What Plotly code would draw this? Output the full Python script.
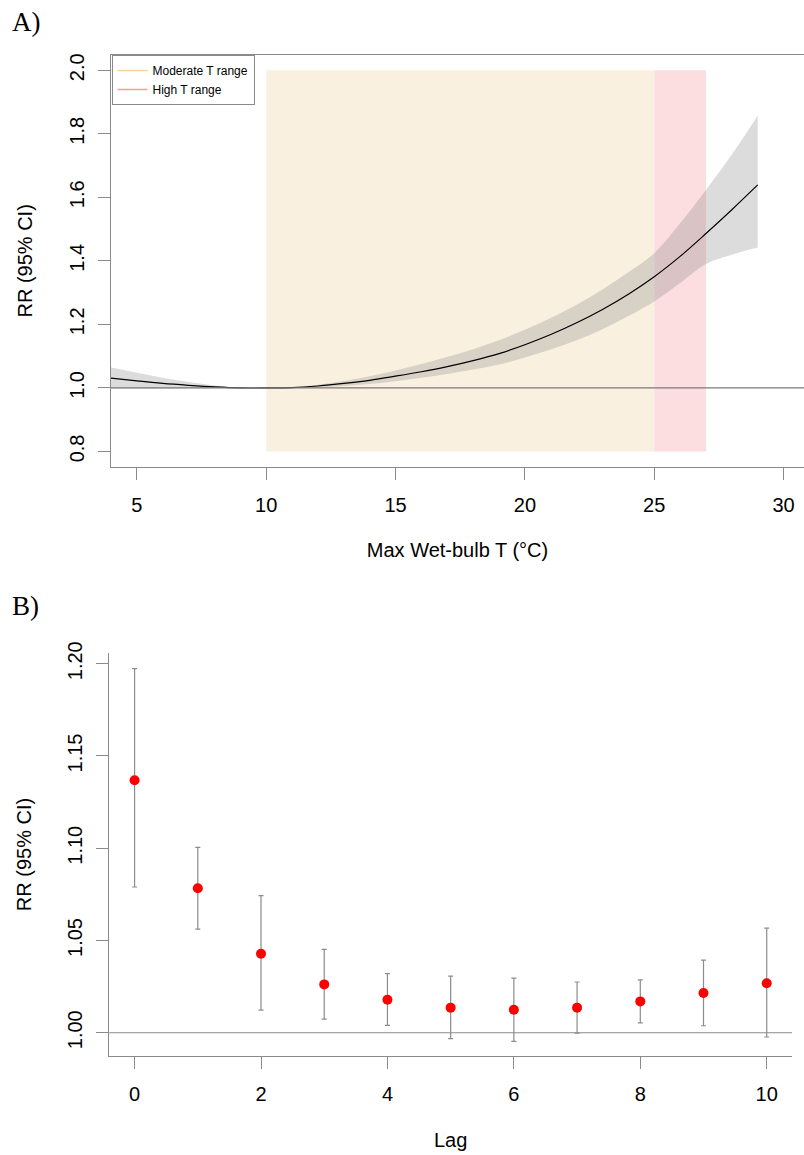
import plotly.graph_objects as go

# ---------------- Panel A data ----------------
temp_x = [4, 5, 6, 7, 8, 9, 10, 11, 12, 13, 14, 15, 16, 17, 18, 19, 20, 21, 22, 23, 24, 25, 26, 27, 28, 29]
rr = [1.031, 1.022, 1.014, 1.008, 1.003, 1.000, 1.000, 1.001, 1.006, 1.014, 1.024, 1.037, 1.051,
      1.067, 1.086, 1.108, 1.136, 1.168, 1.205, 1.247, 1.295, 1.350, 1.414, 1.486, 1.561, 1.639]
rr_lo = [0.997, 0.997, 0.997, 0.998, 0.999, 1.000, 1.000, 1.000, 1.002, 1.006, 1.012, 1.021, 1.032,
         1.044, 1.058, 1.074, 1.096, 1.121, 1.150, 1.185, 1.226, 1.272, 1.330, 1.390, 1.419, 1.442]
rr_hi = [1.064, 1.048, 1.032, 1.019, 1.008, 1.001, 1.000, 1.002, 1.010, 1.022, 1.037, 1.055, 1.075,
         1.097, 1.122, 1.150, 1.183, 1.220, 1.262, 1.310, 1.364, 1.424, 1.518, 1.623, 1.735, 1.857]
moderate_range = [10, 25]
high_range = [25, 27]
shade_y = [0.8, 2.0]
a_xticks = [5, 10, 15, 20, 25, 30]
a_yticks = [0.8, 1.0, 1.2, 1.4, 1.6, 1.8, 2.0]

# ---------------- Panel B data ----------------
lags = [0, 1, 2, 3, 4, 5, 6, 7, 8, 9, 10]
lag_rr = [1.1368, 1.0783, 1.0428, 1.0262, 1.0179, 1.0136, 1.0125, 1.0136, 1.0170, 1.0215, 1.0268]
lag_hi = [1.1973, 1.1005, 1.0743, 1.0452, 1.0320, 1.0307, 1.0296, 1.0275, 1.0287, 1.0394, 1.0567]
lag_lo = [1.0790, 1.0562, 1.0123, 1.0074, 1.0040, 0.9968, 0.9953, 0.9998, 1.0054, 1.0038, 0.9977]
b_xticks = [0, 2, 4, 6, 8, 10]
b_yticks = [1.00, 1.05, 1.10, 1.15, 1.20]

W, H = 804, 1155
FONT = "Liberation Sans, Arial, sans-serif"
AXC = "#8a8a8a"


def px_x(p):
    return p / W


def px_y(p):
    return 1 - p / H


fig = go.Figure()

# Legend entries (panel A)
fig.add_trace(go.Scatter(x=[None], y=[None], mode="lines", name="Moderate T range",
                         line=dict(color="#fcd494", width=1.3), xaxis="x", yaxis="y"))
fig.add_trace(go.Scatter(x=[None], y=[None], mode="lines", name="High T range",
                         line=dict(color="#ff9a9a", width=1.3), xaxis="x", yaxis="y"))

# CI band
fig.add_trace(go.Scatter(x=temp_x, y=rr_lo, mode="lines", line=dict(width=0, shape="spline"),
                         showlegend=False, hoverinfo="skip", xaxis="x", yaxis="y"))
fig.add_trace(go.Scatter(x=temp_x, y=rr_hi, mode="lines", line=dict(width=0, shape="spline"),
                         fill="tonexty", fillcolor="rgba(128,128,128,0.28)",
                         showlegend=False, hoverinfo="skip", xaxis="x", yaxis="y"))
# RR curve
fig.add_trace(go.Scatter(x=temp_x, y=rr, mode="lines", line=dict(color="black", width=1.2, shape="spline"),
                         showlegend=False, xaxis="x", yaxis="y"))

# Panel B points
fig.add_trace(go.Scatter(
    x=lags, y=lag_rr, mode="markers",
    marker=dict(color="#ff0000", size=10),
    error_y=dict(type="data", symmetric=False,
                 array=[h - v for h, v in zip(lag_hi, lag_rr)],
                 arrayminus=[v - l for v, l in zip(lag_rr, lag_lo)],
                 color="#8c8c8c", thickness=1.2, width=2.5),
    showlegend=False, xaxis="x2", yaxis="y2"))

shapes = [
    dict(type="rect", xref="x", yref="y", x0=moderate_range[0], x1=moderate_range[1],
         y0=shade_y[0], y1=shade_y[1], fillcolor="#faf0df", line=dict(width=0), layer="below"),
    dict(type="rect", xref="x", yref="y", x0=high_range[0], x1=high_range[1],
         y0=shade_y[0], y1=shade_y[1], fillcolor="#fcdde0", line=dict(width=0), layer="below"),
    dict(type="line", xref="x domain", yref="y", x0=0, x1=1, y0=1, y1=1,
         line=dict(color="#7a7a7a", width=1.1)),
    dict(type="line", xref="x2 domain", yref="y2", x0=0, x1=1, y0=1, y1=1,
         line=dict(color="#8a8a8a", width=1.1)),
]

axis_common = dict(showgrid=False, zeroline=False, showline=True, linecolor=AXC, linewidth=1.2,
                   ticks="outside", tickcolor=AXC, ticklen=12, tickwidth=1.1, automargin=False,
                   tickfont=dict(family=FONT, size=20, color="black"))

fig.update_layout(
    template="none",
    width=W, height=H,
    margin=dict(l=0, r=0, t=0, b=0, pad=0),
    paper_bgcolor="white", plot_bgcolor="white",
    font=dict(family=FONT, color="black"),
    shapes=shapes,
    showlegend=True,
    legend=dict(x=px_x(111.5), y=px_y(55), xanchor="left", yanchor="top",
                bordercolor=AXC, borderwidth=1, bgcolor="white", traceorder="normal",
                font=dict(family=FONT, size=12, color="black"),
                tracegroupgap=0, itemwidth=30),
    xaxis=dict(domain=[px_x(111), 1.0], range=[4.0, 30.79], anchor="y",
               tickvals=a_xticks, mirror=True, ticklabelstandoff=8,
               title=dict(text="Max Wet-bulb T (°C)", font=dict(family=FONT, size=20), standoff=28),
               **axis_common),
    yaxis=dict(domain=[px_y(466.7), px_y(55)], range=[0.752, 2.048], anchor="x",
               tickvals=a_yticks, tickformat=".1f", tickangle=-90, mirror=False, ticklabelstandoff=6,
               title=dict(text="RR (95% CI)", font=dict(family=FONT, size=20), standoff=27),
               **axis_common),
    xaxis2=dict(domain=[px_x(109.3), px_x(792)], range=[-0.4, 10.4], anchor="y2",
                tickvals=b_xticks, ticklabelstandoff=8,
                title=dict(text="Lag", font=dict(family=FONT, size=20), standoff=28),
                **axis_common),
    yaxis2=dict(domain=[px_y(1056), px_y(653)], range=[0.9874, 1.2058], anchor="x2",
                tickvals=b_yticks, tickformat=".2f", tickangle=-90, ticklabelstandoff=6,
                title=dict(text="RR (95% CI)", font=dict(family=FONT, size=20), standoff=27),
                **axis_common),
    annotations=[
        dict(text="A)", xref="paper", yref="paper", x=px_x(10), y=px_y(22), xanchor="left",
             yanchor="middle", showarrow=False,
             font=dict(family="Liberation Serif, Times New Roman, serif", size=27, color="black")),
        dict(text="B)", xref="paper", yref="paper", x=px_x(10), y=px_y(606), xanchor="left",
             yanchor="middle", showarrow=False,
             font=dict(family="Liberation Serif, Times New Roman, serif", size=27, color="black")),
    ],
)

fig.write_html("out.html")
